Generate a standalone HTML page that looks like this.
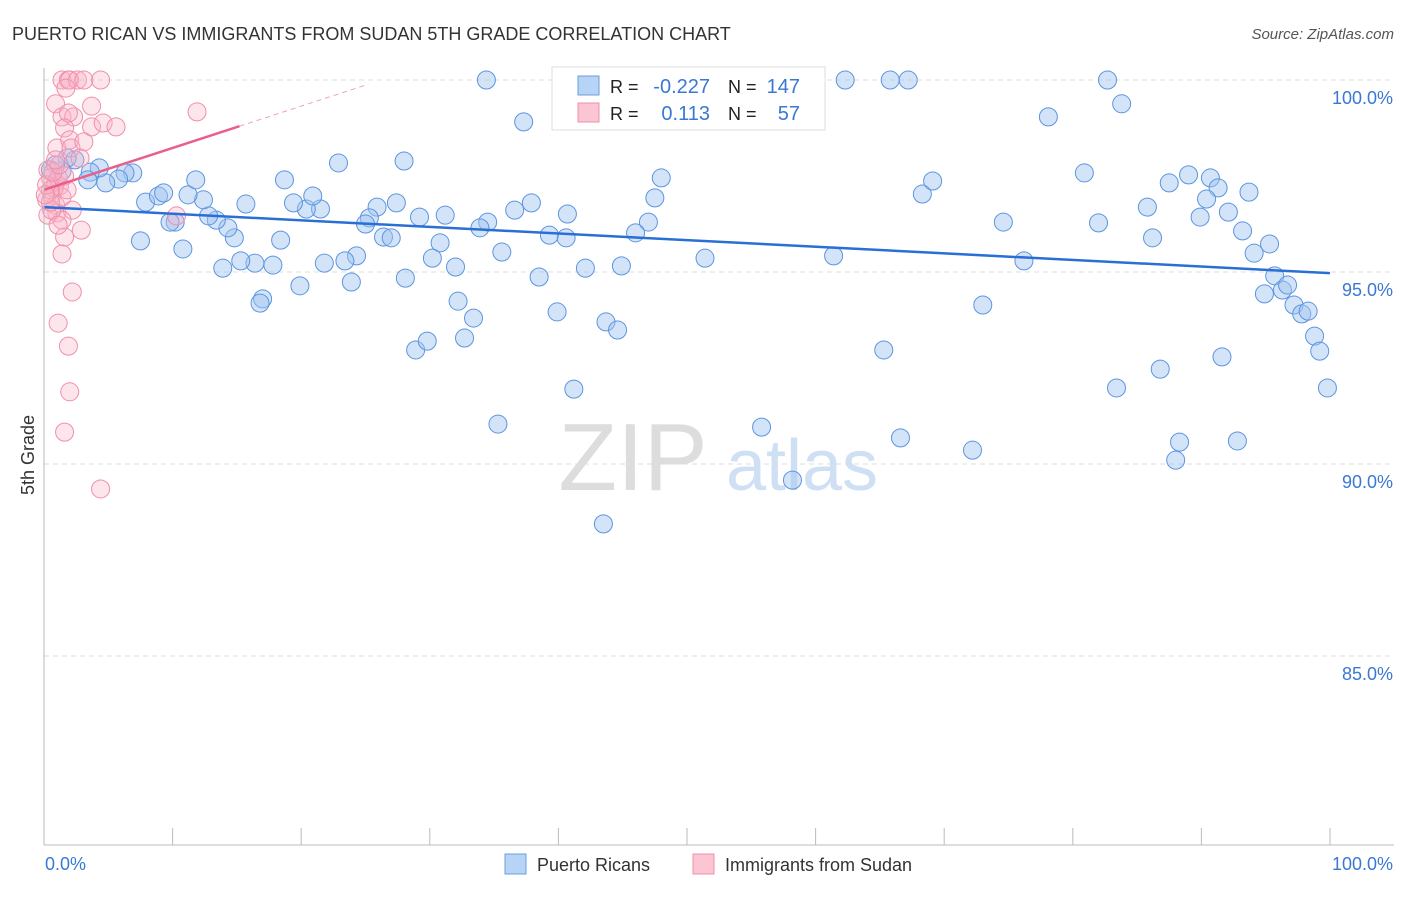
<!DOCTYPE html>
<html><head><meta charset="utf-8">
<style>
body{margin:0;background:#fff;font-family:"Liberation Sans",sans-serif;}
svg text{font-family:"Liberation Sans",sans-serif;}
</style></head>
<body>
<svg id="chart" width="1406" height="892" xmlns="http://www.w3.org/2000/svg">
<text x="12" y="40" font-size="18" fill="#333">PUERTO RICAN VS IMMIGRANTS FROM SUDAN 5TH GRADE CORRELATION CHART</text>
<text x="1394" y="39" font-size="15" fill="#555" text-anchor="end" font-style="italic">Source: ZipAtlas.com</text>
<text x="0" y="0" font-size="18" fill="#333" text-anchor="middle" transform="translate(34,455) rotate(-90)">5th Grade</text>
<g>
<text x="633" y="490" font-size="96" fill="#ddd" font-family="Liberation Serif" text-anchor="middle">ZIP</text>
<text x="802" y="490" font-size="72" fill="#cfe0f5" text-anchor="middle">atlas</text>
</g>
<g id="grid"></g>
<g id="marks"></g>
<g id="trends"></g>
<line x1="44" y1="68" x2="44" y2="845" stroke="#bbb"/>
<line x1="44" y1="845" x2="1394" y2="845" stroke="#bbb"/>
<g id="xticks"></g>
<text x="45" y="870" font-size="18" fill="#3a78d4">0.0%</text>
<text x="1393" y="870" font-size="18" fill="#3a78d4" text-anchor="end">100.0%</text>
<g>
<rect x="552" y="67" width="273" height="63" fill="#fff" stroke="#ddd"/>
<rect x="578" y="76" width="21" height="19" fill="#b7d3f5" stroke="#6a9fe0"/>
<rect x="578" y="103" width="21" height="19" fill="#fbc5d4" stroke="#ee90ab"/>
<text x="610" y="93" font-size="18" fill="#222">R = </text><text x="710" y="93" font-size="20" fill="#3a78d4" text-anchor="end">-0.227</text>
<text x="728" y="93" font-size="18" fill="#222">N = </text><text x="800" y="93" font-size="20" fill="#3a78d4" text-anchor="end">147</text>
<text x="610" y="120" font-size="18" fill="#222">R = </text><text x="710" y="120" font-size="20" fill="#3a78d4" text-anchor="end">0.113</text>
<text x="728" y="120" font-size="18" fill="#222">N = </text><text x="800" y="120" font-size="20" fill="#3a78d4" text-anchor="end">57</text>
</g>
<g>
<rect x="505" y="854" width="21" height="20" fill="#b7d3f5" stroke="#6a9fe0"/>
<text x="537" y="871" font-size="18" fill="#333">Puerto Ricans</text>
<rect x="693" y="854" width="21" height="20" fill="#fbc5d4" stroke="#ee90ab"/>
<text x="725" y="871" font-size="18" fill="#333">Immigrants from Sudan</text>
</g>
</svg>
<script>
const yTicks=[100,95,90,85];
const yTickLabels=["100.0%","95.0%","90.0%","85.0%"];
const xTickVals=[0,10,20,30,40,50,60,70,80,90,100];
const blueX=[34.4,49.1,53.6,59.6,62.3,65.8,67.2,82.7,46.4,37.3,78.1,83.8,28.0,22.9,80.9,89.0,87.5,90.7,91.3,93.7,85.8,90.4,92.1,89.9,93.2,95.3,94.1,82.0,74.6,86.2,68.3,69.1,48.0,47.5,47.0,46.0,40.7,40.6,39.3,37.9,36.6,34.5,33.9,31.2,29.2,30.8,30.2,32.0,27.4,25.9,25.3,25.0,26.4,27.0,23.9,24.3,23.4,21.8,21.5,20.4,20.9,19.4,18.7,18.4,17.8,16.4,15.3,15.7,14.8,14.3,13.4,12.8,12.4,11.2,11.8,10.2,9.8,10.8,7.5,7.9,8.9,9.3,6.9,6.3,5.8,4.8,4.3,3.6,3.4,2.4,1.8,1.4,0.9,0.5,13.9,17.0,16.8,19.9,28.1,32.2,33.4,32.7,28.9,29.8,35.6,38.5,39.9,42.1,43.7,44.6,44.9,51.4,41.2,35.3,43.5,55.8,58.2,61.4,65.3,66.6,72.2,73.0,76.2,83.4,86.8,88.0,88.3,91.6,92.8,95.7,94.9,96.3,96.7,97.2,97.8,98.3,98.8,99.2,99.8];
const blueY=[100,100,100,100,100,100,100,100,99.45,98.91,99.04,99.38,97.89,97.84,97.58,97.53,97.32,97.45,97.19,97.08,96.69,96.90,96.56,96.43,96.07,95.73,95.49,96.28,96.30,95.89,97.03,97.37,97.45,96.93,96.30,96.02,96.51,95.89,95.96,96.80,96.61,96.30,96.15,96.48,96.43,95.76,95.36,95.13,96.80,96.69,96.41,96.25,95.91,95.89,94.74,95.42,95.29,95.23,96.64,96.64,96.98,96.80,97.40,95.83,95.18,95.23,95.29,96.77,95.89,96.15,96.35,96.46,96.88,97.01,97.40,96.30,96.30,95.60,95.81,96.82,96.98,97.06,97.58,97.58,97.42,97.32,97.71,97.60,97.40,97.92,97.97,97.63,97.79,97.66,95.10,94.30,94.19,94.64,94.84,94.24,93.80,93.28,92.97,93.20,95.52,94.87,93.96,95.10,93.70,93.49,95.16,95.36,91.95,91.04,88.44,90.96,89.58,95.42,92.97,90.68,90.36,94.14,95.29,91.98,92.47,90.10,90.57,92.79,90.60,94.90,94.43,94.53,94.66,94.14,93.91,93.98,93.33,92.94,91.98];
const pinkX=[1.4,1.9,2.0,2.6,3.1,4.4,1.7,0.9,3.7,1.4,2.3,1.9,1.6,3.7,4.6,5.6,11.9,1.0,2.0,2.1,3.1,2.8,0.3,0.5,0.9,1.2,0.6,0.2,0.9,1.0,1.4,0.8,1.1,1.6,2.2,1.4,10.3,2.9,1.6,1.4,2.2,1.1,1.9,2.0,1.6,4.4,0.5,0.2,0.7,1.2,0.3,0.6,1.8,0.9,1.1,0.5,0.1];
const pinkY=[100,100,100,100,100,100,99.79,99.38,99.32,99.04,99.04,99.14,98.75,98.78,98.88,98.78,99.17,98.23,98.44,98.23,98.39,97.97,97.66,97.45,97.32,97.24,97.01,96.88,96.74,96.54,96.95,97.19,97.45,97.50,96.61,96.35,96.46,96.09,95.91,95.47,94.48,93.67,93.07,91.88,90.83,89.35,97.14,97.27,97.60,97.79,96.48,96.61,97.14,97.92,96.22,96.82,97.01];
const blueTrend=[96.69,94.97];
const pinkTrend=[97.14,0.109];
const NS="http://www.w3.org/2000/svg";
function sx(v){return 44+v*12.86;}
function sy(v){return 80+(100-v)*38.4;}
function mk(tag,attrs,parent){const e=document.createElementNS(NS,tag);for(const k in attrs)e.setAttribute(k,attrs[k]);document.getElementById(parent).appendChild(e);return e;}
yTicks.forEach((t,i)=>{
 const l=mk('line',{x1:44,x2:1394,y1:sy(t),y2:sy(t),stroke:'#ddd','stroke-dasharray':'5,4'},'grid');
 
 
 const tx=mk('text',{x:1393,y:sy(t)+24,'font-size':18,fill:'#3a78d4','text-anchor':'end'},'grid');
 tx.textContent=yTickLabels[i];
 
 
});
xTickVals.forEach(t=>{
 const l=mk('line',{x1:sx(t),x2:sx(t),y1:828,y2:845,stroke:'#bbb'},'xticks');
 
 
});
blueX.forEach((x,i)=>{
 const c=mk('circle',{cx:sx(x),cy:sy(blueY[i]),r:9,fill:'rgba(160,196,240,0.45)',stroke:'#5b95e0','stroke-width':1},'marks');
 
 
});
pinkX.forEach((x,i)=>{
 const c=mk('circle',{cx:sx(x),cy:sy(pinkY[i]),r:9,fill:'rgba(248,180,200,0.35)',stroke:'#f08fab','stroke-width':1},'marks');
 
 
});
const bl=mk('line',{x1:sx(0),y1:sy(blueTrend[0]),x2:sx(100),y2:sy(blueTrend[1]),stroke:'#2a6fd6','stroke-width':2.5},'trends');


const pl=mk('line',{x1:sx(0),y1:sy(pinkTrend[0]),x2:sx(15.2),y2:sy(pinkTrend[0]+pinkTrend[1]*15.2),stroke:'#e8608a','stroke-width':2.5},'trends');


const pd=mk('line',{x1:sx(15.2),y1:sy(pinkTrend[0]+pinkTrend[1]*15.2),x2:sx(25.2),y2:sy(pinkTrend[0]+pinkTrend[1]*25.2),stroke:'#f0a0b8','stroke-width':1,'stroke-dasharray':'5,4'},'trends');


</script>
</body></html>
